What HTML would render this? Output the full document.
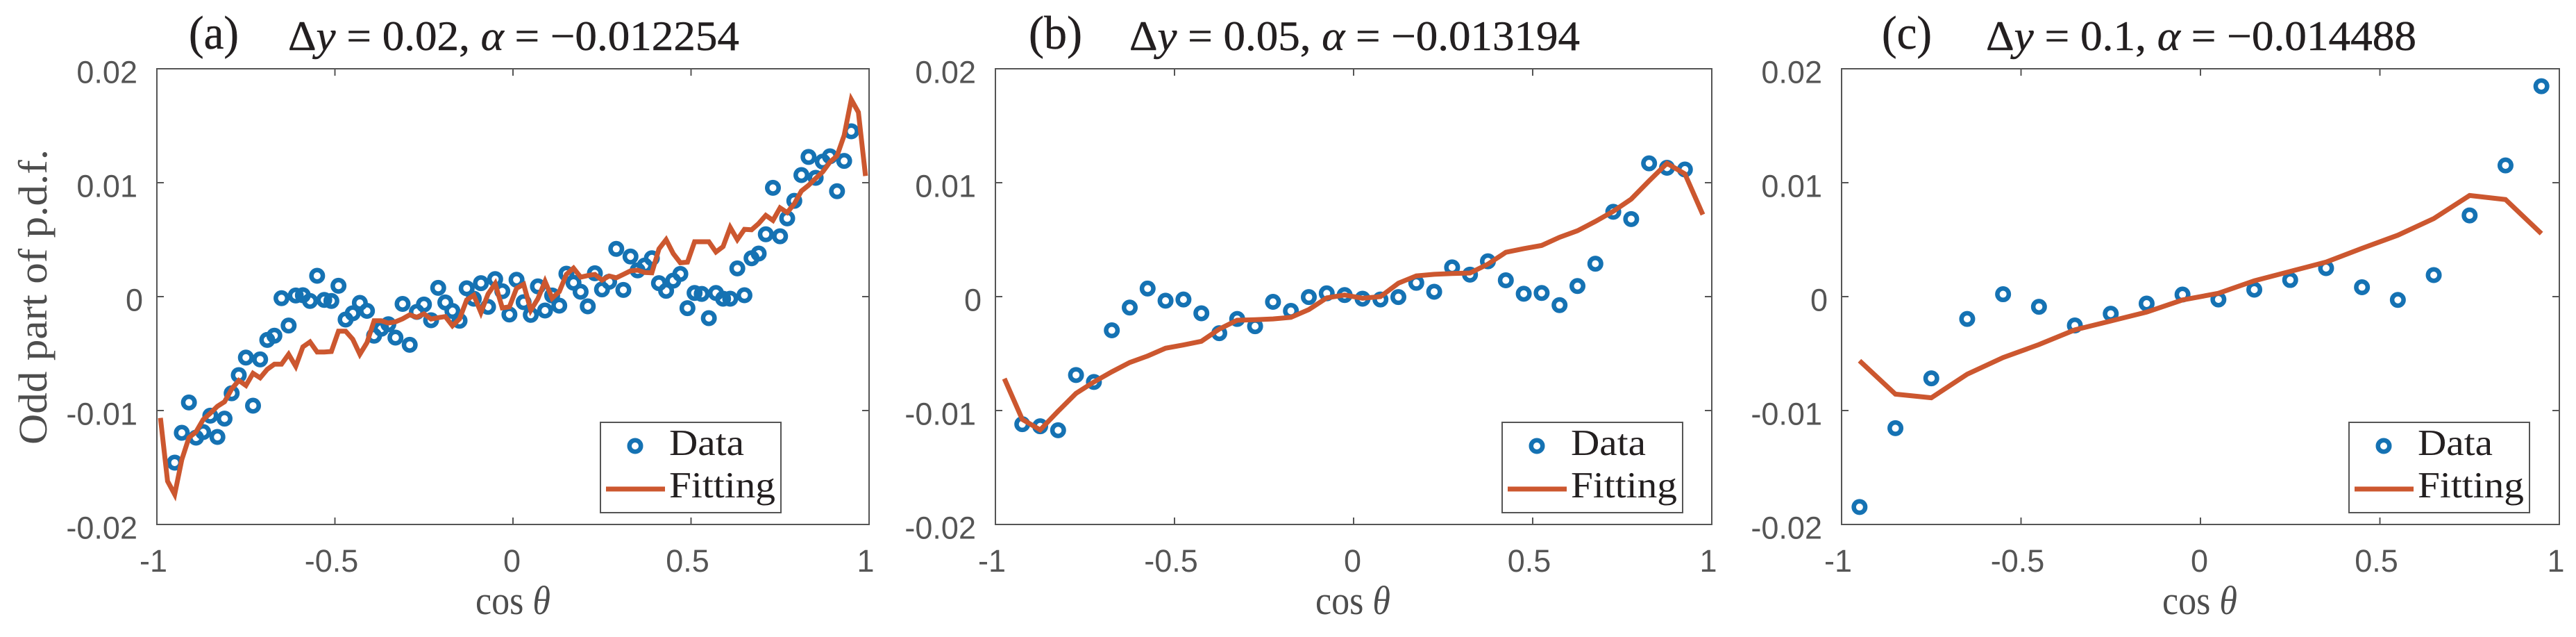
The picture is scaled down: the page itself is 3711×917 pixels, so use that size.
<!DOCTYPE html>
<html lang="en">
<head>
<meta charset="utf-8">
<title>Odd part of p.d.f. fits</title>
<style>
html,body{margin:0;padding:0;background:#fff;}
svg{display:block;}
.tick{font-family:"Liberation Sans",sans-serif;font-size:45px;fill:#555;}
.serif{font-family:"Liberation Serif",serif;}
.head{font-family:"Liberation Serif",serif;font-size:60px;fill:#231f20;stroke:#231f20;stroke-width:0.5px;}
.letter{font-size:68px;}
.lab{font-family:"Liberation Serif",serif;font-size:58px;fill:#4d4d4d;}
.leg{font-family:"Liberation Serif",serif;font-size:53px;fill:#231f20;}
</style>
</head>
<body>
<svg id="fig" xmlns="http://www.w3.org/2000/svg" width="3711" height="917" viewBox="0 0 3711 917">
  <rect width="3711" height="917" fill="#fff"/>
  <g>
    <text class="head letter" x="272" y="70" textLength="72" lengthAdjust="spacingAndGlyphs">(a)</text>
    <text class="head" x="415" y="72" textLength="650" lengthAdjust="spacingAndGlyphs">Δ<tspan font-style="italic">y</tspan> = 0.02, <tspan font-style="italic">α</tspan> = −0.012254</text>
  </g>
  <g>
    <text class="head letter" x="1482" y="70" textLength="77" lengthAdjust="spacingAndGlyphs">(b)</text>
    <text class="head" x="1627" y="72" textLength="649" lengthAdjust="spacingAndGlyphs">Δ<tspan font-style="italic">y</tspan> = 0.05, <tspan font-style="italic">α</tspan> = −0.013194</text>
  </g>
  <g>
    <text class="head letter" x="2711" y="70" textLength="72" lengthAdjust="spacingAndGlyphs">(c)</text>
    <text class="head" x="2861" y="72" textLength="620" lengthAdjust="spacingAndGlyphs">Δ<tspan font-style="italic">y</tspan> = 0.1, <tspan font-style="italic">α</tspan> = −0.014488</text>
  </g>
  <text class="lab" transform="translate(67,640) rotate(-90)" x="0" y="0" textLength="425" lengthAdjust="spacingAndGlyphs">Odd part of p.d.f.</text>
</svg>
<script>
var xTickValues = [-1, -0.5, 0, 0.5, 1];
var yTickValues = [0.02, 0.01, 0, -0.01, -0.02];
var xTickLabels = ["-1", "-0.5", "0", "0.5", "1"];
var yTickLabels = ["0.02", "0.01", "0", "-0.01", "-0.02"];

var dataStartA = -0.95, dataStepA = 0.02;
var fitStartA = -0.99, fitStepA = 0.02;
var dataA = [-0.01457,-0.01195,-0.00929,-0.01238,-0.01189,-0.01045,-0.01232,-0.01071,-0.00848,-0.00689,-0.00535,-0.00957,-0.00551,-0.00380,-0.00343,-0.00014,-0.00254,0.00010,0.00012,-0.00038,0.00183,-0.00029,-0.00038,0.00095,-0.00201,-0.00146,-0.00055,-0.00125,-0.00343,-0.00282,-0.00242,-0.00360,-0.00064,-0.00423,-0.00134,-0.00069,-0.00207,0.00077,-0.00051,-0.00126,-0.00212,0.00073,-0.00018,0.00118,-0.00090,0.00154,0.00047,-0.00157,0.00148,-0.00049,-0.00160,0.00090,-0.00122,0.00010,-0.00079,0.00201,0.00122,0.00043,-0.00085,0.00205,0.00063,0.00130,0.00419,0.00059,0.00352,0.00230,0.00273,0.00337,0.00118,0.00051,0.00140,0.00199,-0.00101,0.00032,0.00024,-0.00189,0.00032,-0.00018,-0.00018,0.00248,0.00012,0.00337,0.00378,0.00547,0.00955,0.00530,0.00687,0.00841,0.01067,0.01226,0.01043,0.01185,0.01232,0.00925,0.01191,0.01451];
var fitA = [-0.01065,-0.01620,-0.01736,-0.01431,-0.01238,-0.01187,-0.01079,-0.01024,-0.00963,-0.00923,-0.00811,-0.00736,-0.00780,-0.00673,-0.00713,-0.00638,-0.00593,-0.00593,-0.00506,-0.00612,-0.00441,-0.00398,-0.00486,-0.00486,-0.00482,-0.00303,-0.00303,-0.00374,-0.00506,-0.00404,-0.00212,-0.00212,-0.00232,-0.00221,-0.00195,-0.00160,-0.00181,-0.00151,-0.00197,-0.00185,-0.00175,-0.00256,-0.00195,-0.00029,0.00012,-0.00140,0.00023,0.00114,-0.00099,-0.00090,0.00073,0.00108,-0.00120,-0.00018,0.00134,-0.00014,0.00043,0.00195,0.00250,0.00171,0.00185,0.00195,0.00145,0.00181,0.00165,0.00195,0.00226,0.00232,0.00212,0.00209,0.00419,0.00500,0.00378,0.00297,0.00303,0.00482,0.00482,0.00482,0.00392,0.00439,0.00608,0.00500,0.00591,0.00587,0.00642,0.00713,0.00669,0.00779,0.00738,0.00815,0.00927,0.00977,0.01038,0.01096,0.01181,0.01236,0.01415,0.01730,0.01618,0.01059];

var dataStartB = -0.925, dataStepB = 0.05;
var fitStartB = -0.975, fitStepB = 0.05;
var dataB = [-0.01120,-0.01138,-0.01173,-0.00688,-0.00749,-0.00296,-0.00096,0.00071,-0.00036,-0.00025,-0.00146,-0.00321,-0.00196,-0.00260,-0.00046,-0.00125,-0.00004,0.00029,0.00014,-0.00018,-0.00025,-0.00004,0.00121,0.00043,0.00257,0.00193,0.00310,0.00143,0.00025,0.00032,-0.00075,0.00093,0.00289,0.00745,0.00681,0.01170,0.01131,0.01116];
var fitB = [-0.00720,-0.01077,-0.01170,-0.01006,-0.00849,-0.00749,-0.00660,-0.00578,-0.00521,-0.00453,-0.00424,-0.00392,-0.00285,-0.00207,-0.00203,-0.00196,-0.00182,-0.00114,-0.00011,0.00014,-0.00014,0,0.00118,0.00182,0.00196,0.00203,0.00207,0.00285,0.00389,0.00421,0.00449,0.00521,0.00578,0.00660,0.00749,0.00856,0.01016,0.01170,0.01077,0.00720];

var dataStartC = -0.95, dataStepC = 0.1;
var fitStartC = -0.95, fitStepC = 0.1;
var dataC = [-0.01847,-0.01155,-0.00717,-0.00196,0.00021,-0.00089,-0.00253,-0.00150,-0.00061,0.00018,-0.00025,0.00061,0.00146,0.00250,0.00082,-0.00029,0.00189,0.00713,0.01152,0.01847];
var fitC = [-0.00563,-0.00856,-0.00888,-0.00681,-0.00535,-0.00421,-0.00292,-0.00214,-0.00136,-0.00029,0.00029,0.00139,0.00221,0.00303,0.00424,0.00539,0.00685,0.00888,0.00852,0.00553];

var legendLabels = ["Data", "Fitting"];

var NS = "http://www.w3.org/2000/svg";
var BLUE = "#1572b3", ORANGE = "#cc572f", AXIS = "#555";
var TOP = 99, BOTTOM = 755;
var fig = document.getElementById("fig");

function mk(parent, tag, attrs, txt) {
  var el = document.createElementNS(NS, tag);
  for (var k in attrs) el.setAttribute(k, attrs[k]);
  if (txt !== undefined) el.textContent = txt;
  parent.appendChild(el);
  return el;
}

function drawPanel(id, left, right, legendLeft, xlabelX, dStart, dStep, dVals, fStart, fStep, fVals) {
  var sx = function (v) { return left + (v + 1) / 2 * (right - left); };
  var sy = function (v) { return TOP + (0.02 - v) / 0.04 * (BOTTOM - TOP); };

  var g = mk(fig, "g", {});
  
  

  var frame = mk(g, "rect", {x: left, y: TOP, width: right - left, height: BOTTOM - TOP, fill: "none", stroke: AXIS, "stroke-width": 2});
  
  

  xTickValues.forEach(function (v, i) {
    var x = sx(v);
    if (i > 0 && i < xTickValues.length - 1) {
      var t1 = mk(g, "line", {x1: x, x2: x, y1: BOTTOM, y2: BOTTOM - 10, stroke: AXIS, "stroke-width": 2});
      
      
      var t2 = mk(g, "line", {x1: x, x2: x, y1: TOP, y2: TOP + 10, stroke: AXIS, "stroke-width": 2});
      
      
    }
    var off = v === 0 ? 1.5 : 5;
    var lab = mk(g, "text", {class: "tick", x: x - off, y: 823, "text-anchor": "middle"}, xTickLabels[i]);
    
    
  });

  yTickValues.forEach(function (v, i) {
    var y = sy(v);
    if (i > 0 && i < yTickValues.length - 1) {
      var t1 = mk(g, "line", {x1: left, x2: left + 10, y1: y, y2: y, stroke: AXIS, "stroke-width": 2});
      
      
      var t2 = mk(g, "line", {x1: right, x2: right - 10, y1: y, y2: y, stroke: AXIS, "stroke-width": 2});
      
      
    }
    var off = v === 0 ? 20 : 28;
    var lab = mk(g, "text", {class: "tick", x: left - off, y: y + 20.5, "text-anchor": "end"}, yTickLabels[i]);
    
    
  });

  var xl = mk(g, "text", {class: "lab", x: xlabelX, y: 884, textLength: 108, lengthAdjust: "spacingAndGlyphs"});
  
  
  mk(xl, "tspan", {}, "cos ");
  mk(xl, "tspan", {"font-style": "italic"}, "θ");

  var dots = mk(g, "g", {});
  
  
  dVals.forEach(function (v, i) {
    var c = mk(dots, "circle", {cx: sx(dStart + i * dStep), cy: sy(v), r: 8.25, fill: "none", stroke: BLUE, "stroke-width": 6.5});
    
    
  });

  var pts = fVals.map(function (v, i) {
    return sx(fStart + i * fStep).toFixed(2) + "," + sy(v).toFixed(2);
  }).join(" ");
  var line = mk(g, "polyline", {points: pts, fill: "none", stroke: ORANGE, "stroke-width": 7, "stroke-linejoin": "miter", "stroke-miterlimit": 3});
  
  

  var leg = mk(g, "g", {});
  
  
  var box = mk(leg, "rect", {x: legendLeft, y: 608, width: 260, height: 130, fill: "#fff", stroke: AXIS, "stroke-width": 2});
  
  
  var lm = mk(leg, "circle", {cx: legendLeft + 50, cy: 642, r: 8.25, fill: "none", stroke: BLUE, "stroke-width": 6.5});
  
  
  var lt1 = mk(leg, "text", {class: "leg", x: legendLeft + 99, y: 655, textLength: 108, lengthAdjust: "spacingAndGlyphs"}, legendLabels[0]);
  
  
  var ll = mk(leg, "line", {x1: legendLeft + 8, x2: legendLeft + 93, y1: 704, y2: 704, stroke: ORANGE, "stroke-width": 7});
  
  
  var lt2 = mk(leg, "text", {class: "leg", x: legendLeft + 99, y: 716, textLength: 153, lengthAdjust: "spacingAndGlyphs"}, legendLabels[1]);
  
  
}

drawPanel("a", 226, 1252, 865, 685, dataStartA, dataStepA, dataA, fitStartA, fitStepA, fitA);
drawPanel("b", 1434, 2466, 2164, 1895, dataStartB, dataStepB, dataB, fitStartB, fitStepB, fitB);
drawPanel("c", 2653, 3687, 3384, 3115, dataStartC, dataStepC, dataC, fitStartC, fitStepC, fitC);
</script>
</body>
</html>
